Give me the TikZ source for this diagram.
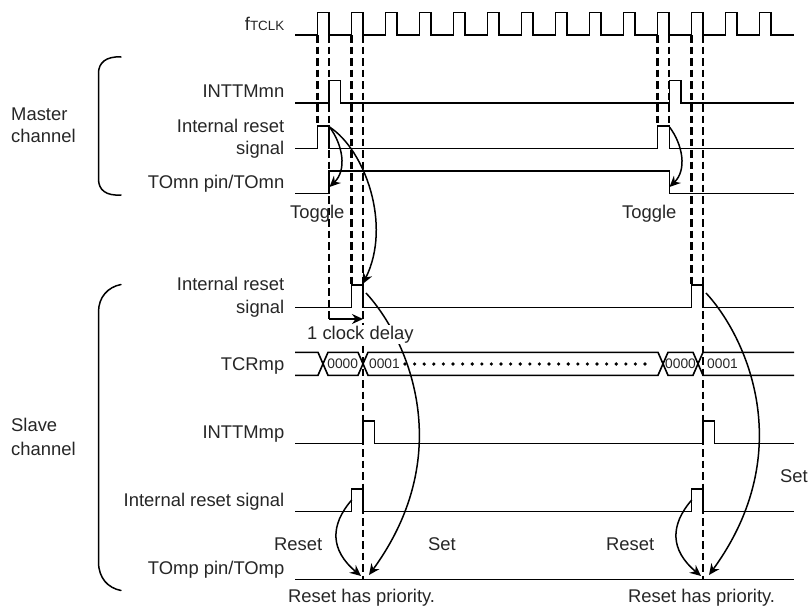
\documentclass[tikz,border=0pt]{standalone}
\usepackage{fontspec}
\setmainfont{Liberation Sans}
\usetikzlibrary{arrows.meta}
\tikzset{
  sig/.style={line width=1.6pt,line join=miter},
  dashline/.style={line width=2.7pt,dash pattern=on 7.5pt off 4pt},
  curve/.style={line width=1.5pt,-{Stealth[length=11pt,width=10pt]}},
  brace/.style={line width=1.5pt,line cap=round},
  lab/.style={anchor=base east,inner sep=0pt,font=\fontsize{18.4}{22}\selectfont,text=black!85},
  free/.style={anchor=base west,inner sep=0pt,font=\fontsize{18.4}{22}\selectfont,text=black!85},
  val/.style={anchor=base,inner sep=0pt,font=\fontsize{13.8}{16}\selectfont,text=black!85},
}
\begin{document}
\begin{tikzpicture}[x=1pt,y=-1pt]
\useasboundingbox (0,0) rectangle (809,608);
% dashed guides
\foreach \s in {0,340}{
  \begin{scope}[xshift=\s pt]
  \draw[dashline] (317.5,35) -- (317.5,126);
  \draw[dashline] (351.5,35) -- (351.5,284.7);
  \draw[dashline] (363,35) -- (363,579);
  \end{scope}
}
\draw[dashline] (329,35) -- (329,319);
\draw[dashline] (669,35) -- (669,126);
% clock
\draw[sig] (295,35)
  \foreach \k in {0,...,13}{ -- ({317.5+34*\k},35) -- ({317.5+34*\k},12.5) -- ({329+34*\k},12.5) -- ({329+34*\k},35) }
  -- (794,35);
% INTTMmn
\draw[sig] (295,103) -- (329,103) -- (329,80.5) -- (340.5,80.5) -- (340.5,103) -- (669.5,103) -- (669.5,80.5) -- (681,80.5) -- (681,103) -- (794,103);
% Internal reset master
\draw[sig] (295,148.5) -- (317.5,148.5) -- (317.5,126) -- (329,126) -- (329,148.5) -- (657.5,148.5) -- (657.5,126) -- (669.5,126) -- (669.5,148.5) -- (794,148.5);
% TOmn
\draw[sig] (295,193.5) -- (329,193.5) -- (329,171) -- (669.5,171) -- (669.5,193.5) -- (794,193.5);
% Internal reset slave
\draw[sig] (295,307.3) -- (351.5,307.3) -- (351.5,284.7) -- (363,284.7) -- (363,307.3) -- (691.5,307.3) -- (691.5,284.7) -- (703,284.7) -- (703,307.3) -- (794,307.3);
% TCRmp
\draw[sig] (295,352.3) -- (318,352.3) -- (328,375.3) -- (358,375.3) -- (368,352.3) -- (658,352.3) -- (668,375.3) -- (693,375.3) -- (703,352.3) -- (794,352.3);
\draw[sig] (295,375.3) -- (318,375.3) -- (328,352.3) -- (358,352.3) -- (368,375.3) -- (658,375.3) -- (668,352.3) -- (693,352.3) -- (703,375.3) -- (794,375.3);
\draw[line width=3.6pt,line cap=round,dash pattern=on 0pt off 9.6pt] (405,364) -- (646,364);
\node[val] (v0) at (342.7,368.6) {0000};
\node[val] (v1) at (384.5,368.6) {0001};
\node[val] (v2) at (680.5,368.6) {0000};
\node[val] (v3) at (722.5,368.6) {0001};
% INTTMmp
\draw[sig] (295,443.3) -- (363,443.3) -- (363,420.7) -- (374.5,420.7) -- (374.5,443.3) -- (703,443.3) -- (703,420.7) -- (714.5,420.7) -- (714.5,443.3) -- (794,443.3);
% Internal reset signal bottom
\draw[sig] (295,511.3) -- (351.5,511.3) -- (351.5,488.7) -- (363,488.7) -- (363,511.3) -- (691.5,511.3) -- (691.5,488.7) -- (703,488.7) -- (703,511.3) -- (794,511.3);
% TOmp
\draw[sig] (295,579.3) -- (794,579.3);
% curved arrows
\foreach \s in {0,340}{
  \begin{scope}[xshift=\s pt]
  \draw[curve] (329.5,127) .. controls (343,145) and (347,170) .. (329.5,187);
  \draw[curve] (366,293) .. controls (405,335) and (460,450) .. (369,575);
  \draw[curve] (351.7,500) .. controls (330,525) and (330,550) .. (361,576);
  \end{scope}
}
\draw[curve] (329.5,127) .. controls (365,150) and (392,225) .. (362.7,284);
\coordinate (dA) at (329,319);
\coordinate (dB) at (363,319);
\draw[curve] (dA) -- (dB);
% brackets
\draw[brace] (121,57) .. controls (106,56) and (98.5,63) .. (98.5,73) -- (98.5,179) .. controls (98.5,190) and (106,196) .. (121,195);
\draw[brace] (121,284.5) .. controls (108,287) and (98.5,297) .. (98.5,312) -- (98.5,562) .. controls (98.5,578) and (108,588) .. (121,590.5);
% labels
\node[lab] (fclk) at (284.5,30) {f{\fontsize{13.4}{16}\selectfont TCLK}};
\node[lab] (mn) at (284.5,97.7) {INTTMmn};
\node[lab] (r1a) at (284.5,132) {Internal reset};
\node[lab] (r1b) at (284.5,154.5) {signal};
\node[lab] (to1) at (284.5,188) {TOmn pin/TOmn};
\node[lab] (r2a) at (284.5,290.7) {Internal reset};
\node[lab] (r2b) at (284.5,313) {signal};
\node[lab] (tcr) at (284.5,370) {TCRmp};
\node[lab] (mp) at (284.5,438) {INTTMmp};
\node[lab] (r3) at (284.5,506) {Internal reset signal};
\node[lab] (to2) at (284.5,574) {TOmp pin/TOmp};
\node[free] (ma) at (11,120) {Master};
\node[free] (mb) at (11,142.7) {channel};
\node[free] (sa) at (11,431.7) {Slave};
\node[free] (sb) at (11,455) {channel};
\node[free] (tg1) at (290,218) {Toggle};
\node[free] (tg2) at (622,218) {Toggle};
\node[free,fill=white,inner ysep=1pt,inner xsep=1pt] (dly) at (306,339) {1 clock delay};
\node[free] (rs1) at (274,550) {Reset};
\node[free] (rs2) at (606,550) {Reset};
\node[free] (st1) at (428,550) {Set};
\node[free] (st2) at (780,482.7) {Set};
\node[free] (pr1) at (288,602) {Reset has priority.};
\node[free] (pr2) at (628,602) {Reset has priority.};
\end{tikzpicture}
\end{document}
